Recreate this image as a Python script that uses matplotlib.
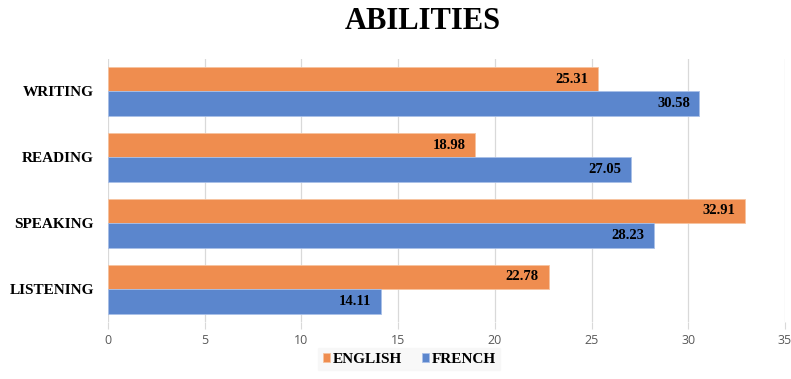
import numpy as np
import matplotlib.pyplot as plt

categories = ['LISTENING', 'SPEAKING', 'READING', 'WRITING']
english = [22.78, 32.91, 18.98, 25.31]
french = [14.11, 28.23, 27.05, 30.58]

serif = ['Liberation Serif', 'DejaVu Serif']
orange = '#EF8D4F'
blue = '#5B86CD'

fig = plt.figure(figsize=(7.91, 3.79), dpi=100)
ax = fig.add_axes([0.1365, 0.1504, 0.8559, 0.6952])

y = np.arange(len(categories))
h = 0.372
ax.barh(y + h / 2, english, height=h, color=orange, edgecolor='#F6C3A0',
        linewidth=0.6, label='ENGLISH', zorder=3)
ax.barh(y - h / 2, french, height=h, color=blue, edgecolor='#A9C0E8',
        linewidth=0.6, label='FRENCH', zorder=3)

# value labels just inside the bar ends
for yy, v in zip(y + h / 2, english):
    ax.text(v - 0.5, yy, f'{v:.2f}', ha='right', va='center',
            fontfamily=serif, fontweight='bold', fontsize=10.5, zorder=4)
for yy, v in zip(y - h / 2, french):
    ax.text(v - 0.5, yy, f'{v:.2f}', ha='right', va='center',
            fontfamily=serif, fontweight='bold', fontsize=10.5, zorder=4)

ax.set_xlim(0, 35)
ax.set_ylim(-0.5, 3.5)
ax.set_xticks(np.arange(0, 36, 5))
ax.set_yticks(y)
ax.set_yticklabels(categories, fontfamily=serif, fontweight='bold', fontsize=11)
for lab in ax.get_xticklabels():
    lab.set_fontfamily(['Open Sans', 'DejaVu Sans'])
    lab.set_fontsize(9)
    lab.set_color('#595959')

ax.grid(axis='x', color='#D9D9D9', linewidth=0.9, zorder=0)
for s in ax.spines.values():
    s.set_visible(False)
ax.tick_params(axis='y', length=0, pad=10)
ax.tick_params(axis='x', length=5, color='#D9D9D9', pad=4)

fig.text(0.534, 0.942, 'ABILITIES', ha='center', va='center',
         fontfamily=serif, fontweight='bold', fontsize=22)

leg = ax.legend(loc='center', bbox_to_anchor=(0.445, -0.142), ncol=2,
                frameon=True, fancybox=False, handlelength=0.5, handleheight=0.5,
                handletextpad=0.15, columnspacing=1.3, borderpad=0.3,
                prop={'family': serif, 'weight': 'bold', 'size': 11})
leg.get_frame().set_facecolor('#F7F7F7')
leg.get_frame().set_edgecolor('#F7F7F7')

fig.savefig('out.png', dpi=100)
